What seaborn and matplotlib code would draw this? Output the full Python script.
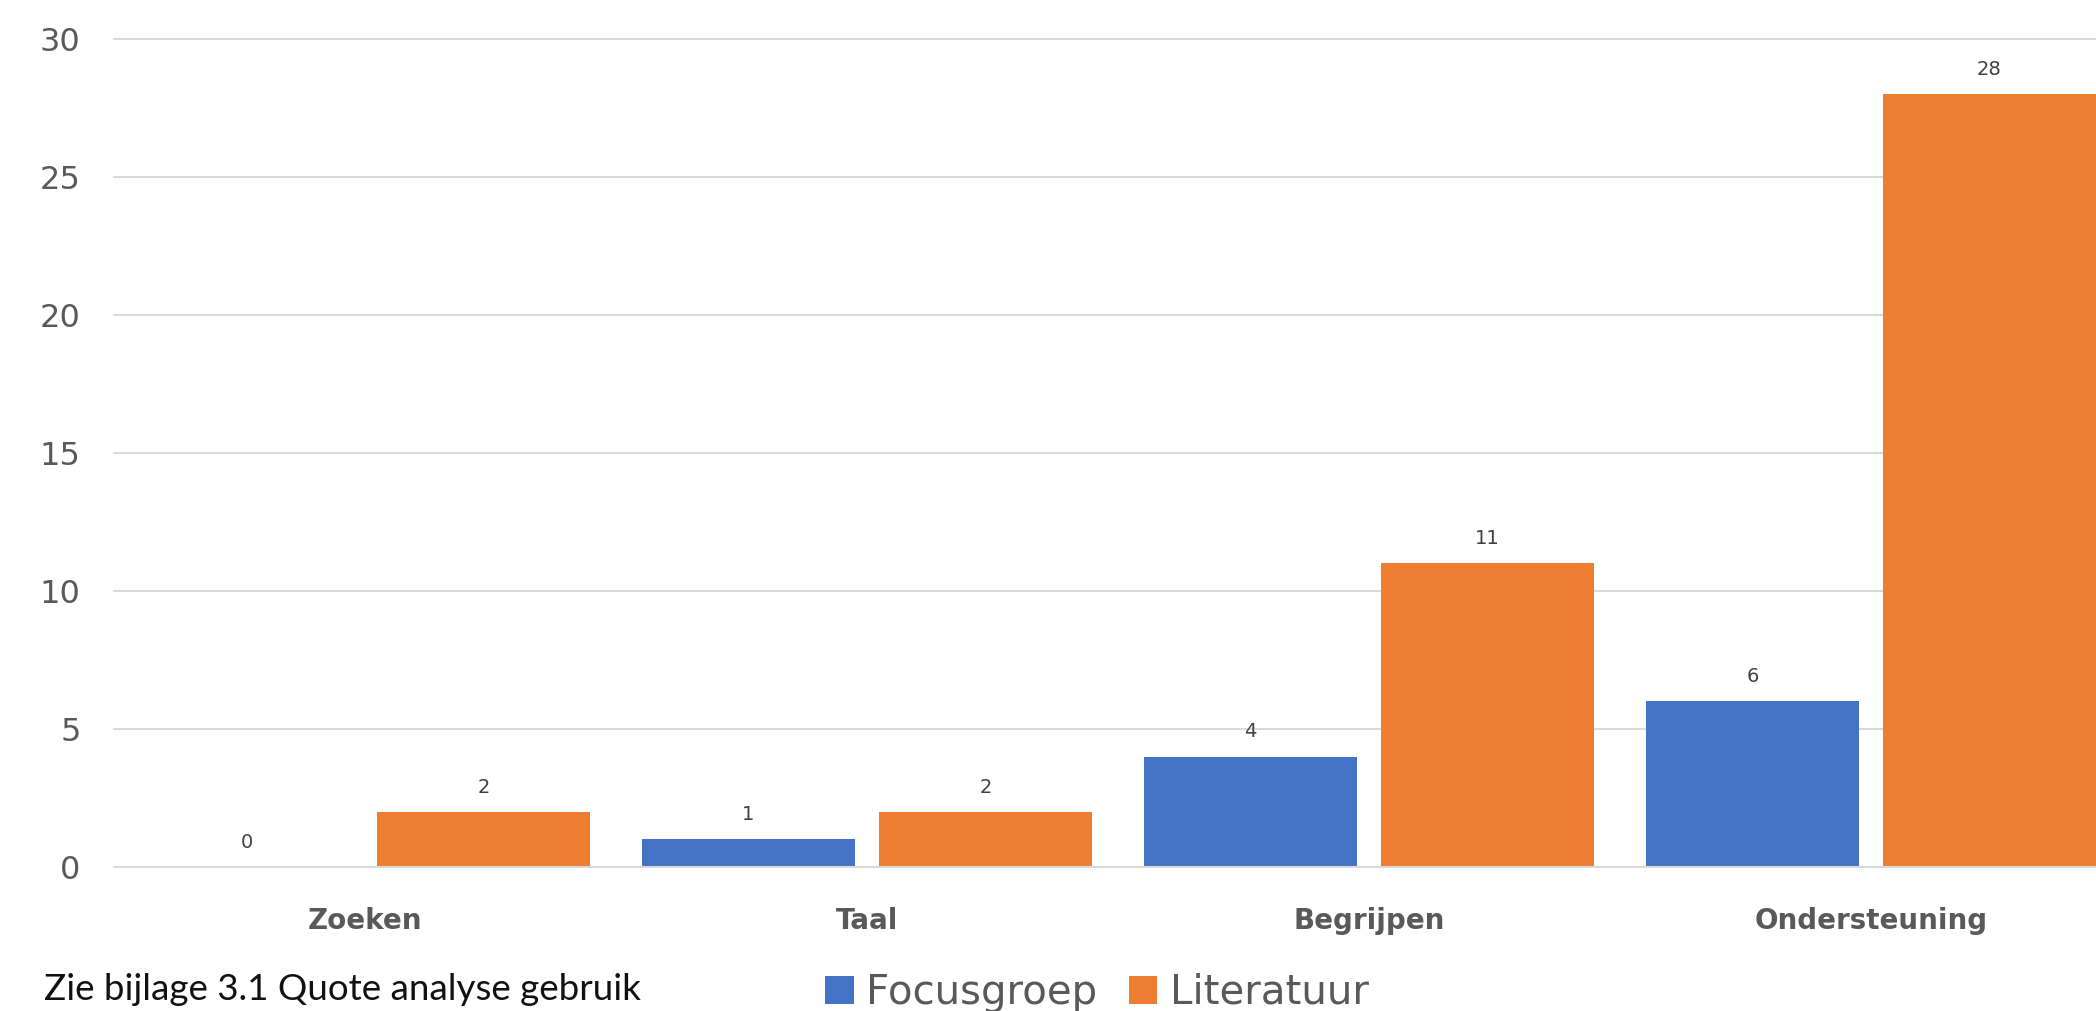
import matplotlib
matplotlib.use("Agg")
import matplotlib.pyplot as plt
from matplotlib.patches import Patch
import pandas as pd
import seaborn as sns

categories = ["Zoeken", "Taal", "Begrijpen", "Ondersteuning"]
series = ["Focusgroep", "Literatuur"]
focusgroep = [0, 1, 4, 6]
literatuur = [2, 2, 11, 28]
y_ticks = [0, 5, 10, 15, 20, 25, 30]
note_text = "Zie bijlage 3.1 Quote analyse gebruik"

colors = {"Focusgroep": "#4472C4", "Literatuur": "#ED7D31"}

df = pd.DataFrame({
    "categorie": categories * 2,
    "reeks": [series[0]] * len(categories) + [series[1]] * len(categories),
    "aantal": focusgroep + literatuur,
})

sns.set_theme(style="white")
plt.rcParams["font.family"] = ["DejaVu Sans"]

W, H = 2096, 1011
fig = plt.figure(figsize=(W / 100, H / 100), dpi=100)
ax = fig.add_axes([114 / W, 1 - 867 / H, 1 - 114 / W, (867 - 39) / H])

sns.barplot(data=df, x="categorie", y="aantal", hue="reeks", order=categories,
            hue_order=series, palette=colors, width=0.944, gap=0.10,
            saturation=1, ax=ax, legend=False, zorder=2, linewidth=0)

ax.set_xlim(-0.5, -0.5 + (W - 114) / 502)
ax.set_ylim(0, 30)

# horizontal gridlines behind the bars, zero line in front
for t in y_ticks:
    ax.axhline(t, color="#D9D9D9", lw=1.5, zorder=1 if t else 3, clip_on=False)

for container in ax.containers:
    ax.bar_label(container, fmt="%g", padding=11, fontsize=14, color="#404040")

ax.set_yticks(y_ticks)
ax.set_yticklabels([str(t) for t in y_ticks], fontsize=23, color="#595959")
ax.tick_params(axis="y", length=0, pad=24)
ax.tick_params(axis="x", length=0, pad=29)
for lbl in ax.get_xticklabels():
    lbl.set_fontsize(20)
    lbl.set_fontweight("bold")
    lbl.set_color("#595959")
ax.set_xlabel("")
ax.set_ylabel("")
for s in ax.spines.values():
    s.set_visible(False)

fig.text(44 / W, 1 - 990 / H, note_text, fontsize=26.5, color="#111111",
         ha="left", va="center", family="Lato", fontweight="normal")

handles = [Patch(facecolor=colors[s], edgecolor="none", label=s) for s in series]
fig.legend(handles=handles, loc="center", bbox_to_anchor=(1097 / W, 1 - 993 / H),
           ncol=2, frameon=False, fontsize=29, handlelength=0.7, handleheight=0.7,
           columnspacing=0.8, handletextpad=0.3, labelcolor="#595959",
           borderaxespad=0, borderpad=0)

fig.savefig("out.png", dpi=100, facecolor="white")
